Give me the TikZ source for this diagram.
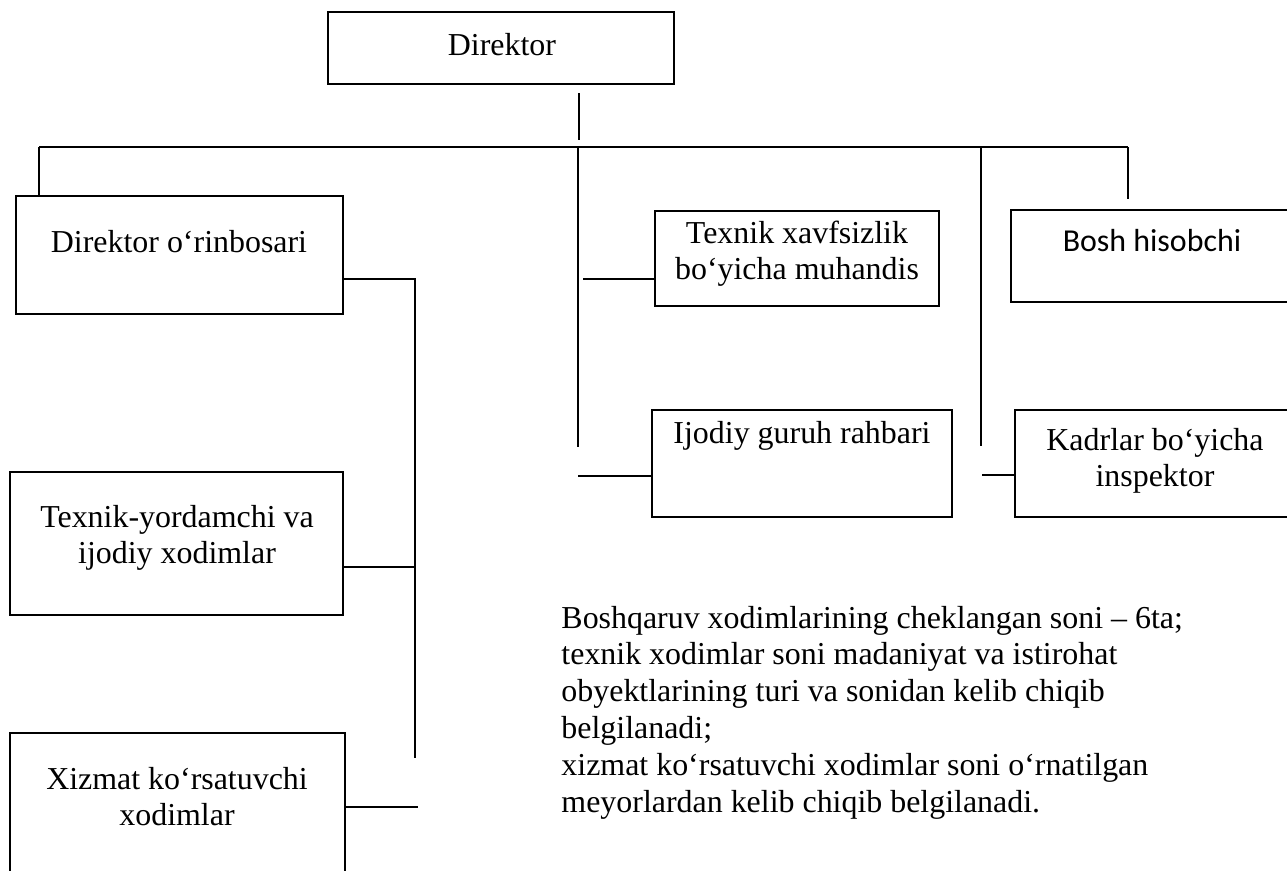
\documentclass[tikz,border=0pt]{standalone}
\usepackage{fontspec}
\setmainfont{Liberation Serif}
\newfontfamily\calibrifont{Carlito}
\def\u{0.4386pt}
\newcommand\mkbox[5]{\node[box, minimum width={(#4-#2)*\u}, minimum height={(#5-#3)*\u}] (#1) at ({(#2+#4)/2},{(#3+#5)/2}) {};}
\begin{document}
\begin{tikzpicture}[x=0.4386pt, y=-0.4386pt,
  box/.style={draw, line width=0.8pt, rectangle, inner sep=0pt, outer sep=0pt},
  lbl/.style={anchor=base, inner sep=0pt, font=\fontsize{14}{16.2}\selectfont},
  lblsans/.style={anchor=base, inner sep=0pt, font=\calibrifont\fontsize{14}{16.2}\selectfont},
  wire/.style={line width=0.8pt}]
\useasboundingbox (0,0) rectangle (1287,870);
\clip (0,0) rectangle (1287,870);

% boxes
\mkbox{dir}{328}{12}{674}{84}
\mkbox{rin}{16}{196}{343}{314}
\mkbox{tex}{655}{211}{939}{306}
\mkbox{bosh}{1011}{210}{1320}{302}
\mkbox{ijo}{652}{410}{952}{517}
\mkbox{kad}{1015}{410}{1320}{517}
\mkbox{tyo}{10}{472}{343}{615}
\mkbox{xiz}{10}{733}{345}{900}

% labels
\node[lbl] (l-dir) at (502,55) {Direktor};
\node[lbl] (l-rin) at (179,252) {Direktor o‘rinbosari};
\node[lbl] (l-tex) at (797,243) {\begin{tabular}[t]{@{}c@{}}Texnik xavfsizlik\\bo‘yicha muhandis\end{tabular}};
\node[lblsans] (l-bosh) at (1152,251) {Bosh hisobchi};
\node[lbl] (l-ijo) at (802,443) {Ijodiy guruh rahbari};
\node[lbl] (l-kad) at (1155,450) {\begin{tabular}[t]{@{}c@{}}Kadrlar bo‘yicha\\inspektor\end{tabular}};
\node[lbl] (l-tyo) at (177,527) {\begin{tabular}[t]{@{}c@{}}Texnik-yordamchi va\\ijodiy xodimlar\end{tabular}};
\node[lbl] (l-xiz) at (177,789) {\begin{tabular}[t]{@{}c@{}}Xizmat ko‘rsatuvchi\\xodimlar\end{tabular}};
\node[lbl, anchor=base west] (note) at (561,628) {\begin{tabular}[t]{@{}l@{}}Boshqaruv xodimlarining cheklangan soni – 6ta;\\
texnik xodimlar soni madaniyat va istirohat\\
obyektlarining turi va sonidan kelib chiqib\\
belgilanadi;\\
xizmat ko‘rsatuvchi xodimlar soni o‘rnatilgan\\
meyorlardan kelib chiqib belgilanadi.\end{tabular}};

% junction coordinates
\coordinate (dv-top) at (579,93);
\coordinate (dv-bot) at (579,140);
\coordinate (bus-l) at (39,147);
\coordinate (bus-r) at (1128,147);
\coordinate (rd-bot) at (1128,199);
\coordinate (c-top) at (578,146);
\coordinate (c-bot) at (578,447);
\coordinate (r-top) at (981,147);
\coordinate (r-bot) at (981,446);
\coordinate (t-j) at (583,279);
\coordinate (i-j) at (578,476);
\coordinate (k-j) at (982,475);
\coordinate (s-top) at (415,279);
\coordinate (s-bot) at (415,758);
\coordinate (y-j) at (415,567);
\coordinate (x-j) at (418,807);

% connectors
\draw[wire] (dv-top) -- (dv-bot);
\draw[wire] (bus-l) -- (bus-r);
\draw[wire] (bus-l) -- (bus-l |- rin.north);
\draw[wire] (bus-r) -- (rd-bot);
\draw[wire] (c-top) -- (c-bot);
\draw[wire] (r-top) -- (r-bot);
\draw[wire] (t-j) -- (tex.west |- t-j);
\draw[wire] (i-j) -- (ijo.west |- i-j);
\draw[wire] (k-j) -- (kad.west |- k-j);
\draw[wire] (rin.east |- s-top) -- (s-top) -- (s-bot);
\draw[wire] (tyo.east |- y-j) -- (y-j);
\draw[wire] (xiz.east |- x-j) -- (x-j);
\end{tikzpicture}
\end{document}
